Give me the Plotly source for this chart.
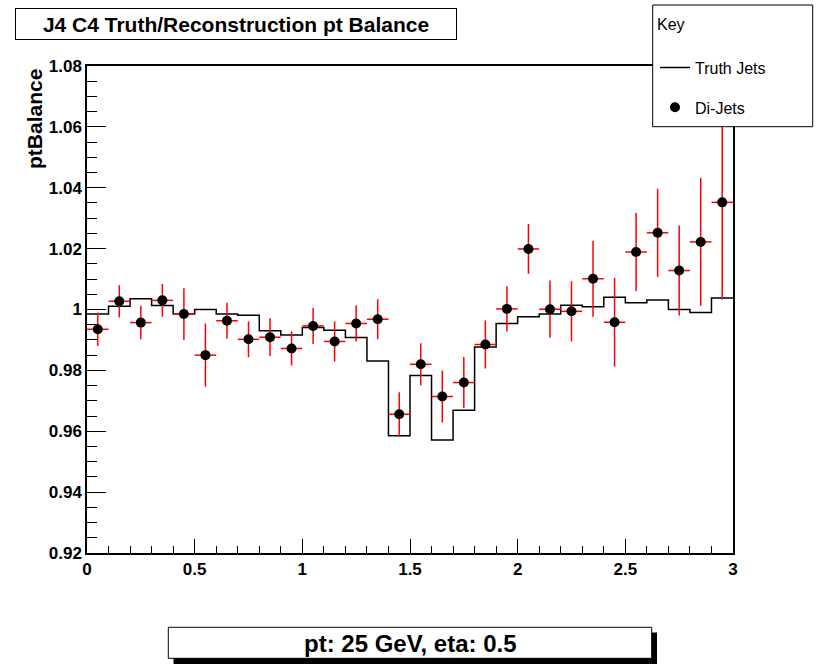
import numpy as np
import plotly.graph_objects as go

# ---- data ----
n_bins = 30
x_min, x_max = 0.0, 3.0
bin_edges = np.linspace(x_min, x_max, n_bins + 1)
bin_centers = 0.5 * (bin_edges[:-1] + bin_edges[1:])
bin_half = 0.5 * np.diff(bin_edges)

truth_jets = [0.9985, 1.0011, 1.0035, 1.0013, 0.9985, 1.0000, 0.9985, 0.9981,
              0.9930, 0.9916, 0.9941, 0.9932, 0.9908, 0.9831, 0.9585, 0.9783,
              0.9571, 0.9669, 0.9877, 0.9954, 0.9976, 0.9985, 1.0014, 1.0009,
              1.0040, 1.0022, 1.0031, 1.0000, 0.9990, 1.0038]

dijets = [0.9935, 1.0027, 0.9957, 1.0030, 0.9985, 0.9850, 0.9963, 0.9902,
          0.9909, 0.9872, 0.9946, 0.9895, 0.9954, 0.9968, 0.9656, 0.9820,
          0.9714, 0.9760, 0.9885, 1.0002, 1.0199, 1.0001, 0.9994, 1.0101,
          0.9958, 1.0189, 1.0252, 1.0128, 1.0222, 1.0352]

dijets_err = [0.0055, 0.0053, 0.0055, 0.0054, 0.0085, 0.0104, 0.0059, 0.0059,
              0.0062, 0.0056, 0.0059, 0.0066, 0.0059, 0.0066, 0.0072, 0.0069,
              0.0085, 0.0084, 0.0079, 0.0074, 0.0082, 0.0094, 0.0099, 0.0125,
              0.0146, 0.0128, 0.0145, 0.0148, 0.0210, 0.0319]

title_text = "J4 C4 Truth/Reconstruction pt Balance"
y_title = "ptBalance"
footer_text = "pt: 25 GeV, eta: 0.5"

# ---- layout geometry helpers (pixel -> paper) ----
W, H = 821, 669
L, R, T, B = 87, 733, 66, 553


def px(x):
    return (x - L) / (R - L)


def py(y):
    return (B - y) / (B - T)


FONT = "Liberation Sans, Arial, sans-serif"

fig = go.Figure()

fig.add_trace(go.Scatter(
    x=list(bin_edges),
    y=list(truth_jets) + [truth_jets[-1]],
    mode="lines",
    line=dict(color="black", width=1.5, shape="hv"),
    name="Truth Jets",
    legendgroup="a",
))

fig.add_trace(go.Scatter(
    x=list(bin_centers),
    y=dijets,
    mode="markers",
    marker=dict(color="black", size=10, symbol="circle"),
    error_y=dict(type="data", array=dijets_err, color="red", thickness=1.5, width=0),
    error_x=dict(type="data", array=list(bin_half), color="red", thickness=1.5, width=0),
    name="Di-Jets",
    legendgroup="b",
))

axis_common = dict(
    showgrid=False, zeroline=False, showline=True, linecolor="black", linewidth=1.5,
    mirror=True, ticks="inside", tickcolor="black", tickwidth=1,
    tickfont=dict(family=FONT, size=17, color="black", weight="bold"),
)

fig.update_xaxes(range=[x_min, x_max], dtick=0.5, tick0=0, ticklen=14,
                 minor=dict(ticks="inside", dtick=0.1, ticklen=7, tickcolor="black", tickwidth=1),
                 **axis_common)
fig.update_yaxes(range=[0.92, 1.08], dtick=0.02, tick0=0.92, ticklen=19,
                 minor=dict(ticks="inside", dtick=0.005, ticklen=10, tickcolor="black", tickwidth=1),
                 **axis_common)

shapes = [
    # legend box
    dict(type="rect", xref="paper", yref="paper", layer="above",
         x0=px(652.7), x1=px(812.7), y0=py(126.7), y1=py(5),
         fillcolor="white", line=dict(color="black", width=1)),
    # footer shadow
    dict(type="rect", xref="paper", yref="paper", layer="above",
         x0=px(173.5), x1=px(657), y0=py(664), y1=py(632.5),
         fillcolor="black", line=dict(width=0)),
    # footer box
    dict(type="rect", xref="paper", yref="paper", layer="above",
         x0=px(168.3), x1=px(651.7), y0=py(658.3), y1=py(627.3),
         fillcolor="white", line=dict(color="black", width=1)),
]

annotations = [
    dict(text=title_text, xref="paper", yref="paper", x=px(236), y=py(24),
         xanchor="center", yanchor="middle", showarrow=False,
         width=440, height=30, borderpad=0, bordercolor="black", borderwidth=1,
         bgcolor="white",
         font=dict(family=FONT, size=21, color="black", weight="bold")),
    dict(text=y_title, xref="paper", yref="paper", x=px(35), y=py(67),
         xanchor="center", yanchor="top", textangle=-90, showarrow=False,
         font=dict(family=FONT, size=21, color="black", weight="bold")),
    dict(text=footer_text, xref="paper", yref="paper", x=px(410), y=py(643),
         xanchor="center", yanchor="middle", showarrow=False,
         font=dict(family=FONT, size=24, color="black", weight="bold")),
]

fig.update_layout(
    width=W, height=H,
    margin=dict(l=L, r=W - R, t=T, b=H - B, autoexpand=False),
    paper_bgcolor="white", plot_bgcolor="white",
    showlegend=True,
    legend=dict(
        x=px(655), y=py(9), xanchor="left", yanchor="top",
        bgcolor="rgba(0,0,0,0)", borderwidth=0,
        font=dict(family=FONT, size=16, color="black"),
        title=dict(text="Key<br> ", font=dict(family=FONT, size=16, color="black")),
        tracegroupgap=16, itemwidth=30,
    ),
    shapes=shapes,
    annotations=annotations,
)

fig.write_html("out.html")
